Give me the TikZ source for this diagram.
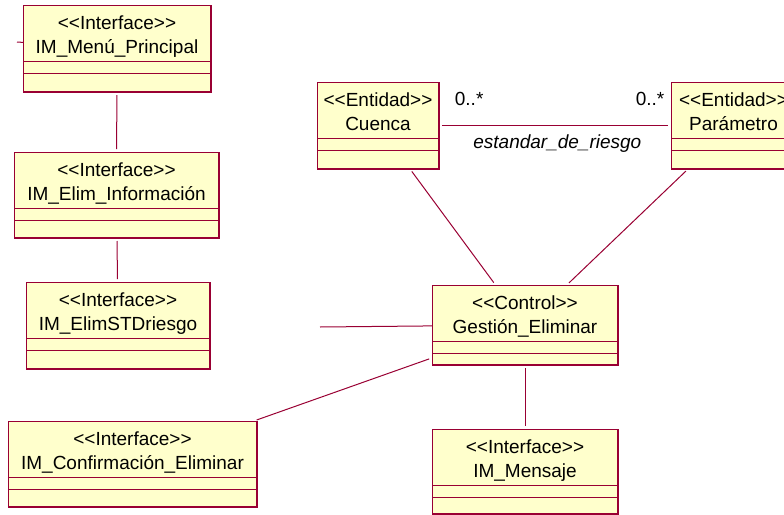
\documentclass[tikz,border=0pt]{standalone}
\usepackage{fontspec}
\setmainfont{Liberation Sans}[Ligatures=TeXOff]
\usetikzlibrary{positioning}
\definecolor{roseLine}{RGB}{153,0,51}
\definecolor{roseFill}{RGB}{255,255,204}
\tikzset{
  classbox/.style={draw=roseLine, fill=roseFill, line width=0.5pt, inner sep=0pt, anchor=north west},
  classedge/.style={draw=roseLine, line width=1pt},
  classtext/.style={anchor=base, inner sep=0pt, font=\fontsize{9.5}{12}\selectfont},
  sepline/.style={draw=roseLine, line width=0.5pt},
  link/.style={draw=roseLine, line width=0.5pt, shorten <=1.5pt, shorten >=1.5pt},
  multlabel/.style={anchor=base, inner sep=0pt, font=\fontsize{9.5}{12}\selectfont},
}
% class box: name, top left, width, height (px), stereotype, title
\newcommand{\umlclass}[6]{%
  \node[classbox, minimum width=#3*0.5pt, minimum height=#4*0.5pt] (#1) at (#2) {};
  \node[classtext, yshift=-12pt] (#1-st) at (#1.north) {#5};
  \node[classtext, yshift=-24pt] (#1-nm) at (#1.north) {#6};
  \draw[sepline] ([yshift=-28pt]#1.north west) -- ([yshift=-28pt]#1.north east);
  \draw[sepline] ([yshift=-34pt]#1.north west) -- ([yshift=-34pt]#1.north east);
  \draw[classedge] (#1.south west) -- (#1.south east) -- (#1.north east);
}

\begin{document}
\begin{tikzpicture}[x=0.5pt,y=-0.5pt]
  \path[use as bounding box, clip] (0,0) rectangle (784,515);

  % interfaces on the left
  \umlclass{menu}{23,5}{187}{86}{<<Interface>>}{IM\_Menú\_Principal}
  \umlclass{info}{14,152}{204}{85}{<<Interface>>}{IM\_Elim\_Información}
  \umlclass{std}{26,282}{183}{86}{<<Interface>>}{IM\_ElimSTDriesgo}
  \umlclass{confirm}{8,421}{248}{85}{<<Interface>>}{IM\_Confirmación\_Eliminar}

  % control and entities
  \umlclass{gestion}{432,285}{185}{79}{<<Control>>}{Gestión\_Eliminar}
  \umlclass{mensaje}{432,429}{185}{84}{<<Interface>>}{IM\_Mensaje}
  \umlclass{cuenca}{317,82}{121}{86}{<<Entidad>>}{Cuenca}
  \umlclass{param}{671,82}{124}{86}{<<Entidad>>}{Parámetro}

  \coordinate (menustub) at (17,42);
  \coordinate (gestionstub) at (320,327);

  % connectors
  \draw[sepline] (menustub) -- (menu);
  \draw[link] (menu) -- (info);
  \draw[link] (info) -- (std);
  \draw[sepline] (gestionstub) -- (gestion);
  \draw[link] (gestion) -- (confirm);
  \draw[link] (gestion) -- (mensaje);
  \draw[link] (cuenca) -- (gestion);
  \draw[link] (param) -- (gestion);
  \draw[link] (cuenca) --
    node[multlabel, pos=0.13, yshift=10pt] (multa) {0..*}
    node[multlabel, pos=0.51, yshift=-11.5pt, font=\fontsize{9.5}{12}\selectfont\itshape] (rolename) {estandar\_de\_riesgo}
    node[multlabel, pos=0.91, yshift=10pt] (multb) {0..*}
    (param);
\end{tikzpicture}
\end{document}
